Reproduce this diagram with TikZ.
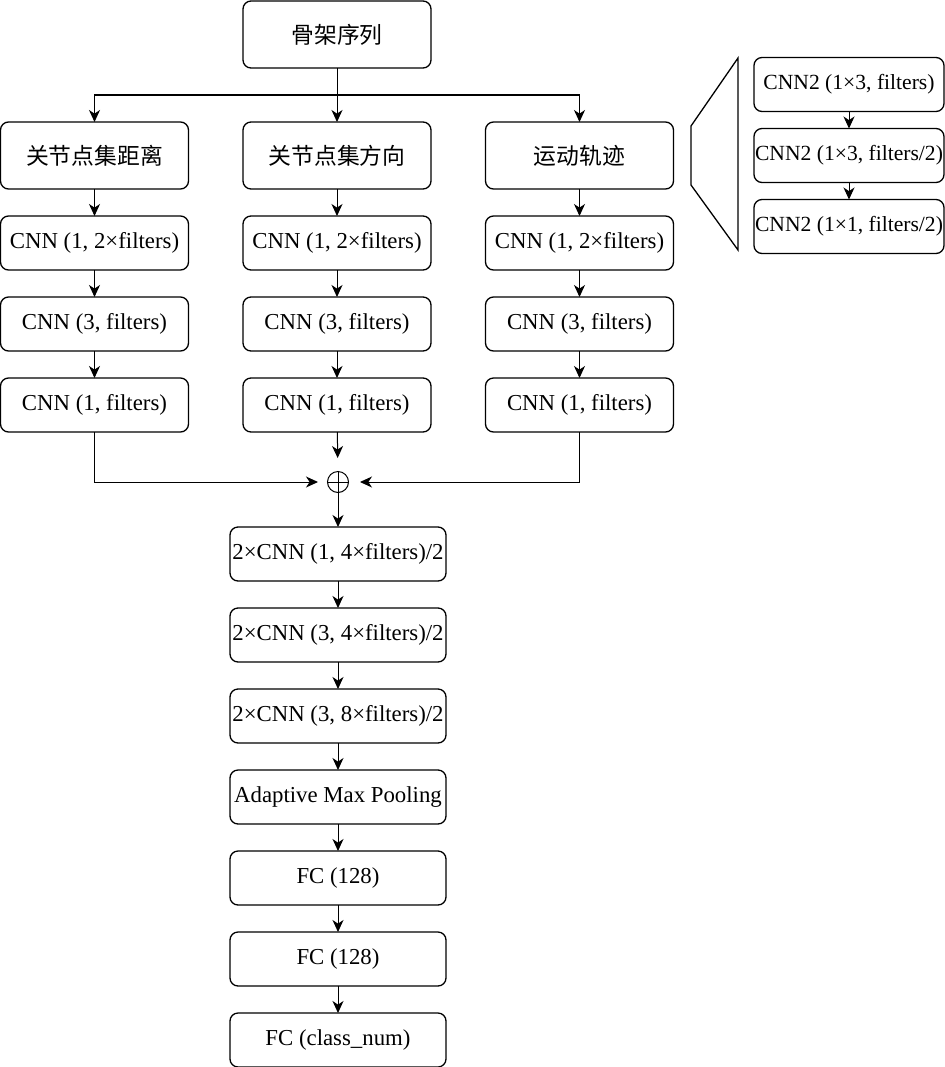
\documentclass[tikz,border=0pt]{standalone}
\usepackage{fontspec}
\setmainfont{Liberation Serif}
\newfontfamily\cjk{Noto Sans CJK SC}
\usetikzlibrary{positioning,arrows.meta}

\begin{document}
\begin{tikzpicture}[
x=0.5pt, y=-0.5pt,
node distance=13.5pt,
box/.style={draw, line width=0.65pt, rounded corners=4pt, minimum width=94pt, minimum height=27pt, inner sep=0pt, outer sep=0pt, align=center, font=\fontsize{11.4}{13}\selectfont},
headbox/.style={box, minimum height=33.5pt, font=\fontsize{11.4}{13}\selectfont\cjk},
widebox/.style={box, minimum width=108pt},
sidebox/.style={box, minimum width=95pt, font=\fontsize{10.8}{13}\selectfont},
arrow/.style={-{Stealth[length=6pt, width=5.5pt, inset=1.8pt]}, line width=0.5pt},
sumnode/.style={circle, draw, line width=0.5pt, minimum size=10.5pt, inner sep=0pt, path picture={\draw[line width=0.5pt] (path picture bounding box.north) -- (path picture bounding box.south) (path picture bounding box.west) -- (path picture bounding box.east);}}
]
\useasboundingbox (0,0) rectangle (945,1067);

\node[headbox] (seq) at (337,34.5) {骨架序列};
\node[headbox] (dist) at (94.5,155.5) {关节点集距离};
\node[headbox] (dir) at (337,155.5) {关节点集方向};
\node[headbox] (traj) at (579.5,155.5) {运动轨迹};

\node[box, below=of dist] (dista) {CNN (1, 2×filters)};
\node[box, below=of dista] (distb) {CNN (3, filters)};
\node[box, below=of distb] (distc) {CNN (1, filters)};
\node[box, below=of dir] (dira) {CNN (1, 2×filters)};
\node[box, below=of dira] (dirb) {CNN (3, filters)};
\node[box, below=of dirb] (dirc) {CNN (1, filters)};
\node[box, below=of traj] (traja) {CNN (1, 2×filters)};
\node[box, below=of traja] (trajb) {CNN (3, filters)};
\node[box, below=of trajb] (trajc) {CNN (1, filters)};

\node[sumnode] (sum) at (338,482) {};

\node[widebox, below=17pt of sum] (merge1) {2×CNN (1, 4×filters)/2};
\node[widebox, below=of merge1] (merge2) {2×CNN (3, 4×filters)/2};
\node[widebox, below=of merge2] (merge3) {2×CNN (3, 8×filters)/2};
\node[widebox, below=of merge3] (pool) {Adaptive Max Pooling};
\node[widebox, below=of pool] (fca) {FC (128)};
\node[widebox, below=of fca] (fcb) {FC (128)};
\node[widebox, below=of fcb] (fcout) {FC (class\_num)};

% detail of the trajectory branch
\node[sidebox] (side1) at (849,84.5) {CNN2 (1×3, filters)};
\node[sidebox, below=8.5pt of side1] (side2) {CNN2 (1×3, filters/2)};
\node[sidebox, below=8.5pt of side2] (side3) {CNN2 (1×1, filters/2)};
\draw[line width=0.65pt] (691,126) -- (738,58) -- (738,250) -- (691,185) -- cycle;

\draw[arrow] (seq) -- (dir);
\draw[arrow, line width=0.8pt] (seq.south) ++(0,27) -| (dist.north);
\draw[arrow, line width=0.8pt] (seq.south) ++(0,27) -| (traj.north);

\draw[arrow] (dist) -- (dista);
\draw[arrow] (dista) -- (distb);
\draw[arrow] (distb) -- (distc);
\draw[arrow] (dir) -- (dira);
\draw[arrow] (dira) -- (dirb);
\draw[arrow] (dirb) -- (dirc);
\draw[arrow] (traj) -- (traja);
\draw[arrow] (traja) -- (trajb);
\draw[arrow] (trajb) -- (trajc);

\draw[arrow, shorten >=4.5pt] (distc.south) |- (sum.west);
\draw[arrow, shorten >=5.5pt] (trajc.south) |- (sum.east);
\draw[arrow, shorten >=6.5pt] (dirc) -- (sum);

\draw[arrow] (sum) -- (merge1);
\draw[arrow] (merge1) -- (merge2);
\draw[arrow] (merge2) -- (merge3);
\draw[arrow] (merge3) -- (pool);
\draw[arrow] (pool) -- (fca);
\draw[arrow] (fca) -- (fcb);
\draw[arrow] (fcb) -- (fcout);

\draw[arrow] (side1) -- (side2);
\draw[arrow] (side2) -- (side3);
\end{tikzpicture}
\end{document}
